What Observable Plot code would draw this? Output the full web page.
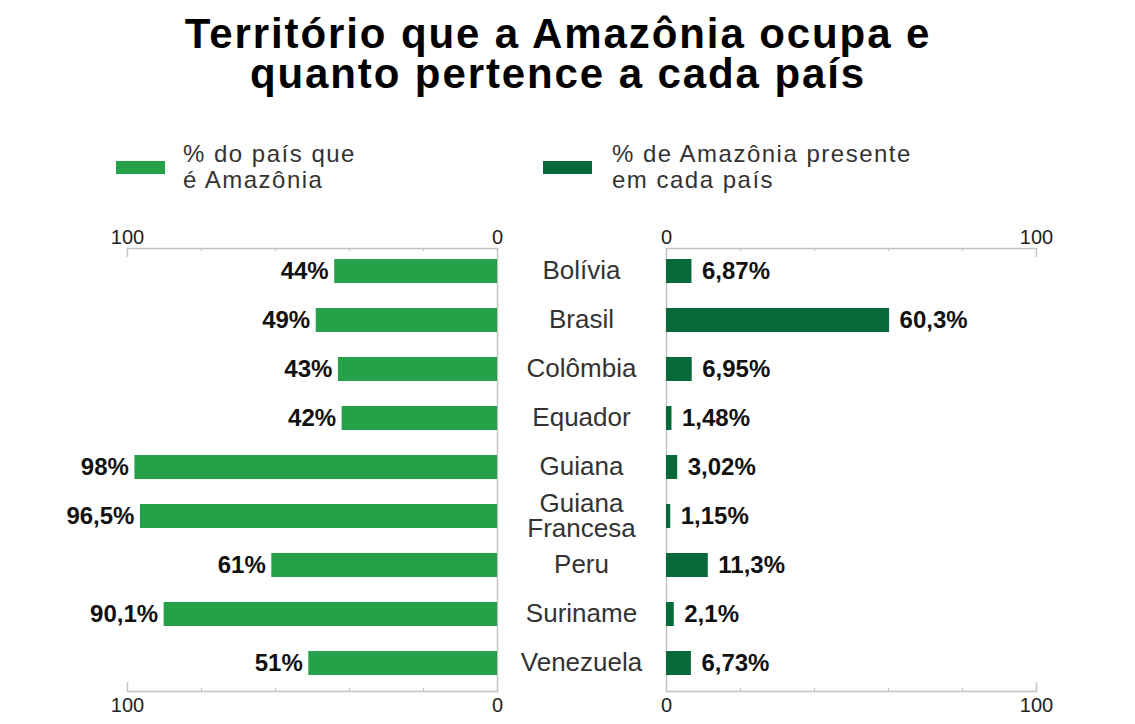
<!DOCTYPE html>
<html>
<head>
<meta charset="utf-8">
<script src="https://cdn.jsdelivr.net/npm/d3@7"></script>
<script src="https://cdn.jsdelivr.net/npm/@observablehq/plot@0.6"></script>
<style>
  html, body { margin: 0; padding: 0; background: #fff; }
  body { width: 1135px; height: 724px; position: relative; overflow: hidden;
         font-family: "Liberation Sans", Arial, Helvetica, sans-serif; }
  #title { position: absolute; left: 0; width: 1116px; top: 14px; text-align: center;
           font-size: 42px; line-height: 40px; font-weight: bold; letter-spacing: 1.9px; color: #000; }
  .sw { position: absolute; height: 13px; }
  .lg { position: absolute; font-size: 24px; line-height: 26px; letter-spacing: 1.5px; color: #333; }
  #left, #right { position: absolute; top: 215px; }
  #left { left: 0; }
  #right { left: 581px; }
</style>
</head>
<body>
<div id="title">Território que a Amazônia ocupa e<br>quanto pertence a cada país</div>
<div id="legend"></div>
<div id="left"></div>
<div id="right"></div>
<script>
const countries = ["Bolívia","Brasil","Colômbia","Equador","Guiana","Guiana Francesa","Peru","Suriname","Venezuela"];
const countryLabels = ["Bolívia","Brasil","Colômbia","Equador","Guiana","Guiana\nFrancesa","Peru","Suriname","Venezuela"];
const pctPais = [44, 49, 43, 42, 98, 96.5, 61, 90.1, 51];
const pctAmazonia = [6.87, 60.3, 6.95, 1.48, 3.02, 1.15, 11.3, 2.1, 6.73];
const tickValues = [0, 20, 40, 60, 80, 100];
const tickLabels = [0, 100];
const seriesNames = ["% do país que\né Amazônia", "% de Amazônia presente\nem cada país"];
const colors = ["#25a249", "#07693a"];

const data = countries.map((c, i) => ({country: c, label: countryLabels[i], pais: pctPais[i], amazonia: pctAmazonia[i]}));
const fmt = v => String(v).replace(".", ",") + "%";

// legend
const legend = document.getElementById("legend");
const legPos = [{sx: 116, tx: 183}, {sx: 543, tx: 612}];
seriesNames.forEach((name, i) => {
  const sw = document.createElement("div");
  sw.className = "sw";
  sw.style.left = legPos[i].sx + "px"; sw.style.top = "161px"; sw.style.width = "49px";
  sw.style.background = colors[i];
  legend.appendChild(sw);
  const t = document.createElement("div");
  t.className = "lg";
  t.style.left = legPos[i].tx + "px"; t.style.top = "141px";
  t.innerHTML = name.split("\n").join("<br>");
  legend.appendChild(t);
});

const H = 509, MT = 33, MB = 33;
const frameH = H - MT - MB;
const gray = "#c4c4c4";
const font = "Liberation Sans, Arial, Helvetica, sans-serif";

function axisMarks() {
  return [
    Plot.frame({anchor: "top", stroke: gray, strokeWidth: 1.5}),
    Plot.frame({anchor: "bottom", stroke: gray, strokeWidth: 1.5}),
    Plot.ruleX(tickValues.filter(d => d > 0 && d < 100), {stroke: gray, strokeWidth: 1.2, insetBottom: frameH - 3}),
    Plot.ruleX(tickValues.filter(d => d > 0 && d < 100), {stroke: gray, strokeWidth: 1.2, insetTop: frameH - 3}),
    Plot.ruleX([100], {stroke: gray, strokeWidth: 1.5, insetBottom: frameH - 9}),
    Plot.ruleX([100], {stroke: gray, strokeWidth: 1.5, insetTop: frameH - 9}),
    Plot.ruleX([0], {stroke: gray, strokeWidth: 1.5}),
    Plot.axisX({anchor: "top", ticks: tickLabels, tickSize: 0, tickPadding: 5, fontSize: 20, label: null, tickFormat: d => String(d)}),
    Plot.axisX({anchor: "bottom", ticks: tickLabels, tickSize: 0, tickPadding: 6, fontSize: 20, label: null, tickFormat: d => String(d)})
  ];
}

const common = {
  height: H, marginTop: MT, marginBottom: MB,
  y: {domain: countries, range: [29.8, 474.2], paddingInner: 0.51, paddingOuter: 0.255, axis: null},
  style: {overflow: "visible", background: "transparent", fontFamily: font, color: "#222"}
};

const left = Plot.plot({
  ...common,
  width: 581, marginLeft: 127, marginRight: 84,
  x: {domain: [0, 100], reverse: true, axis: null, label: null},
  marks: [
    ...axisMarks(),
    Plot.barX(data, {x: "pais", y: "country", fill: colors[0]}),
    Plot.text(data, {x: "pais", y: "country", text: d => fmt(d.pais), textAnchor: "end", dx: -6,
      fontWeight: "bold", fontSize: 24, fill: "#111", letterSpacing: 2.3}),
    Plot.text(data, {y: "country", text: "label", frameAnchor: "right", dx: 84, textAnchor: "middle",
      fontSize: 26, fill: "#333", lineHeight: 0.95, letterSpacing: 3})
  ]
});
document.getElementById("left").appendChild(left);

const right = Plot.plot({
  ...common,
  width: 554, marginLeft: 85, marginRight: 99,
  x: {domain: [0, 100], axis: null, label: null},
  marks: [
    ...axisMarks(),
    Plot.barX(data, {x: "amazonia", y: "country", fill: colors[1]}),
    Plot.text(data, {x: "amazonia", y: "country", text: d => fmt(d.amazonia), textAnchor: "start", dx: 10,
      fontWeight: "bold", fontSize: 24, fill: "#111", letterSpacing: 2.3})
  ]
});
document.getElementById("right").appendChild(right);
</script>
</body>
</html>
